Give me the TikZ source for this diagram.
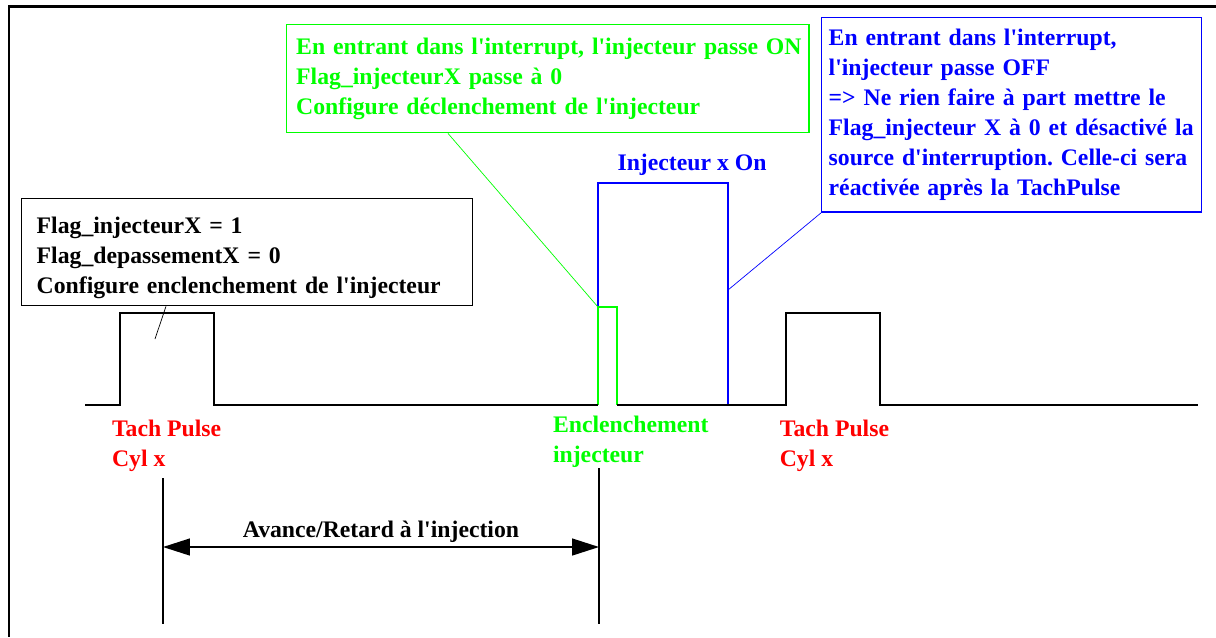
\documentclass[tikz,border=0pt]{standalone}
\usepackage{fontspec}
\setmainfont{Liberation Serif}[Ligatures=TeXOff]
\usetikzlibrary{arrows.meta, calc}
\definecolor{vert}{RGB}{0,255,0}
\definecolor{bleu}{RGB}{0,0,255}
\definecolor{rouge}{RGB}{255,0,0}
\newcommand{\ecr}{\fontsize{13.5}{17}\selectfont\bfseries\frenchspacing}

\begin{document}
\begin{tikzpicture}[x=0.02cm, y=-0.02cm,
        bx/.style={draw, anchor=north west, align=left, inner ysep=0pt, font=\ecr, line width=0.8pt},
        lb/.style={anchor=north west, align=left, inner sep=0pt, font=\ecr},
        sig/.style={line width=0.9pt},
        fl/.style={{Triangle[length=0.54cm, width=0.34cm]}-{Triangle[length=0.54cm, width=0.34cm]}, line width=0.8pt}]
        \useasboundingbox (0,0) rectangle (1216,637);
        \draw[line width=1.7pt] (1216,6) -- (9,6) -- (9,637);
        \node[bx, text width=8.42cm, inner xsep=0.3cm, minimum height=2.14cm] (a) at (21,198) {\rule{0pt}{16pt}Flag\_injecteurX = 1\\Flag\_depassementX = 0\\Configure enclenchement de l'injecteur};
        \node[bx, vert, text width=10.07cm, inner xsep=0.19cm, minimum height=2.16cm] (b) at (286,24) {\mbox{En entrant dans l'interrupt, l'injecteur passe ON}\\Flag\_injecteurX passe à 0\\Configure déclenchement de l'injecteur};
        \node[bx, bleu, text width=7.32cm, inner xsep=0.14cm, minimum height=3.89cm] (c) at (821,17) {En entrant dans l'interrupt,\\l'injecteur passe OFF\\=> Ne rien faire à part mettre le\\\mbox{Flag\_injecteur X à 0 et désactivé la}\\source d'interruption. Celle-ci sera\\réactivée après la TachPulse};
        \draw[sig, bleu] (598,307) -- (598,183) -- (728,183) -- (728,405);
        \draw[sig, vert] (598,405) -- (598,307) -- (617,307) -- (617,405);
        \draw[sig] (85,405) -- (120,405) -- (120,313) -- (214,313) -- (214,405) -- (598,405);
        \draw[sig] (617,405) -- (786,405) -- (786,313) -- (880,313) -- (880,405) -- (1198,405);
        \coordinate (pa) at (155,339);
        \coordinate (pb) at (598,307);
        \coordinate (pc) at (728,290);
        \draw[thin] ([xshift=2.9cm]a.south west) -- (pa);
        \draw[thin, vert] ([xshift=3.24cm]b.south west) -- (pb);
        \draw[thin, bleu] (c.south west) -- (pc);
        \node[font=\ecr, text=bleu, anchor=base, inner sep=0pt] (on) at (692,170) {Injecteur x On};
        \node[lb, text=rouge] (t1) at (111.7,420) {Tach Pulse\\Cyl x};
        \node[lb, text=vert] (e) at (552.7,416) {Enclenchement\\injecteur};
        \node[lb, text=rouge] (t2) at (779.5,420) {Tach Pulse\\Cyl x};
        \coordinate (g1) at (163,478); \coordinate (g2) at (163,624);
        \coordinate (d1) at (599,468); \coordinate (d2) at (599,624);
        \coordinate (ag) at (163,547); \coordinate (ad) at (599,547);
        \draw[line width=0.8pt] (g1) -- (g2);
        \draw[line width=0.8pt] (d1) -- (d2);
        \draw[fl] (ag) -- node[above, font=\ecr, inner sep=2pt] (av) {Avance/Retard à l'injection} (ad);
    \end{tikzpicture}
\end{document}
